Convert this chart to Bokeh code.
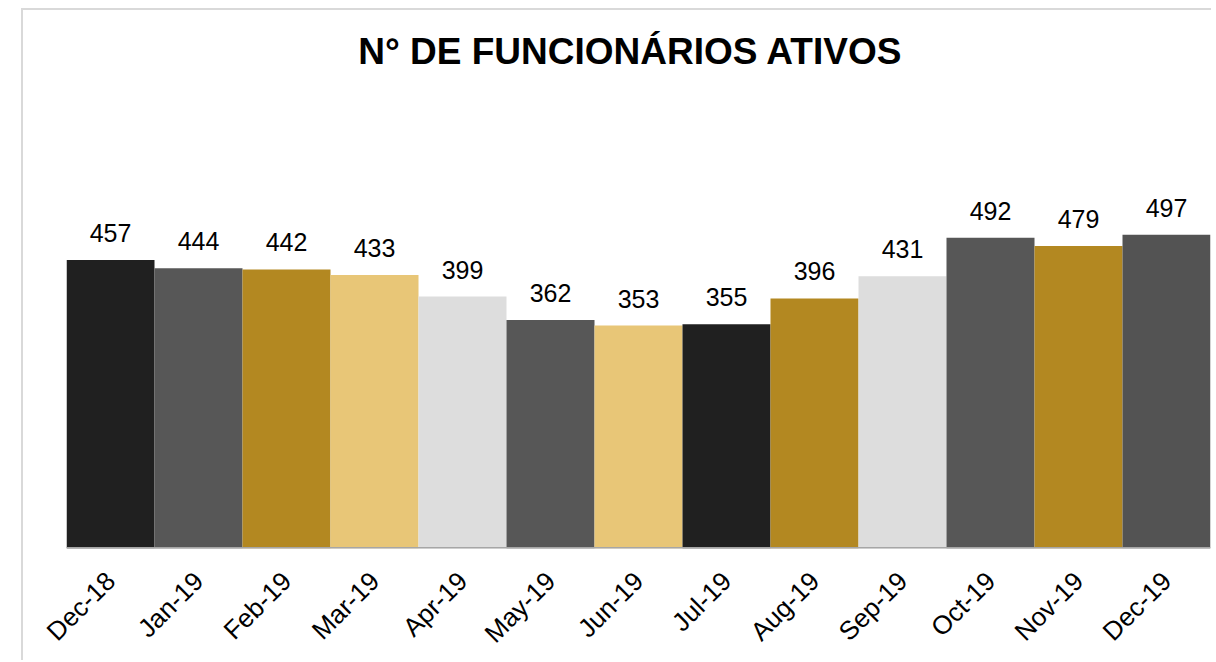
from bokeh.plotting import figure
from bokeh.models import ColumnDataSource, Span, FactorRange, Range1d, Label
from bokeh.core.properties import value
from bokeh.embed import file_html
from bokeh.resources import INLINE
import math

months = ["Dec-18", "Jan-19", "Feb-19", "Mar-19", "Apr-19", "May-19", "Jun-19",
          "Jul-19", "Aug-19", "Sep-19", "Oct-19", "Nov-19", "Dec-19"]
employees = [457, 444, 442, 433, 399, 362, 353, 355, 396, 431, 492, 479, 497]
bar_colors = ["#202020", "#575757", "#b38821", "#e8c677", "#dddddd", "#575757", "#e8c677",
              "#202020", "#b38821", "#dddddd", "#575757", "#b38821", "#535353"]
title_text = "N° DE FUNCIONÁRIOS ATIVOS"

src = ColumnDataSource(dict(month=months, val=employees, color=bar_colors,
                            label=[str(v) for v in employees]))

FONT = "Liberation Sans"

# frame spans from the top of the canvas down to the baseline; the title sits inside it
p = figure(x_range=FactorRange(*months, range_padding=0), y_range=Range1d(0, 852),
           width=1190, height=652, output_backend="svg", toolbar_location=None,
           min_border_left=43, min_border_right=3, min_border_top=0, min_border_bottom=114,
           styles={"margin-left": "21px", "margin-top": "8px",
                   "border-left": "2px solid #d9d9d9",
                   "border-top": "2px solid #d9d9d9"})

p.vbar(x="month", top="val", width=1.0, color="color", line_color=None, source=src)
p.text(x="month", y="val", text="label", text_align="center", text_baseline="alphabetic",
       y_offset=-27, text_font=value(FONT), text_font_size="25px", text_color="#000000",
       source=src)

p.add_layout(Span(location=0, dimension="width", line_color="#a6a6a6", line_width=3))

p.add_layout(Label(x=564, y=497, x_units="screen", y_units="screen", text=title_text,
                   text_align="center", text_baseline="middle", text_font=FONT,
                   text_font_size="37px", text_font_style="bold", text_color="#000000"))

p.yaxis.visible = False
p.xgrid.visible = False
p.ygrid.visible = False
p.outline_line_color = None
p.xaxis.axis_line_color = None
p.xaxis.major_tick_line_color = None
p.xaxis.minor_tick_line_color = None
p.xaxis.major_tick_out = 0
p.xaxis.major_tick_in = 0
p.xaxis.major_label_orientation = math.pi / 4
p.xaxis.major_label_text_font = FONT
p.xaxis.major_label_text_font_size = "26px"
p.xaxis.major_label_text_color = "#000000"
p.xaxis.major_label_standoff = 28
p.background_fill_color = "white"
p.border_fill_color = "white"

open("out.html", "w").write(file_html(p, INLINE))
